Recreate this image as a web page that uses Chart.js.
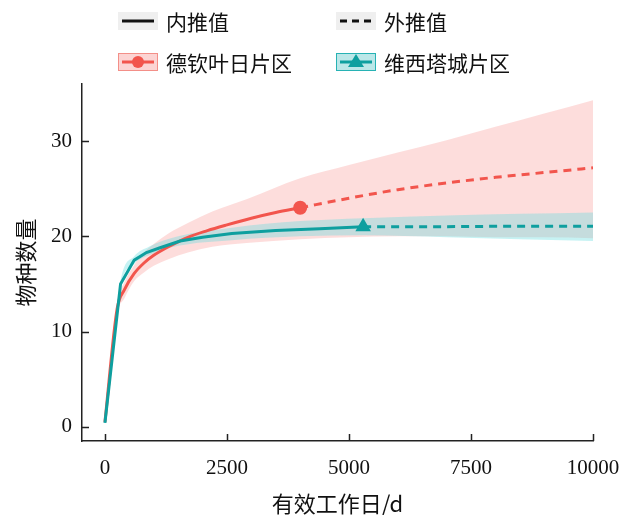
<!DOCTYPE html>
<html>
<head>
<meta charset="utf-8">
<script src="https://cdn.jsdelivr.net/npm/chart.js@4.4.1/dist/chart.umd.min.js"></script>
<style>
html, body { margin: 0; padding: 0; background: #fff; }
#wrap { width: 628px; height: 515px; position: relative; }
</style>
</head>
<body>
<div id="wrap"><canvas id="myChart"></canvas></div>
<script>
const xTicks = [0, 2500, 5000, 7500, 10000];
const yTicks = [0, 10, 20, 30];

// 德钦叶日片区
const deqinInterpDays = [0, 250, 400, 600, 800, 1000, 1300, 1700, 2100, 2500, 3000, 3500, 4000];
const deqinInterp = [0.5, 12.4, 14.4, 16.1, 17.2, 18.0, 18.9, 19.9, 20.6, 21.2, 21.9, 22.5, 23.0];
const deqinExtrapDays = [4000, 5000, 6000, 7000, 8000, 9000, 10000];
const deqinExtrap = [23.0, 24.0, 24.9, 25.6, 26.2, 26.7, 27.2];
const deqinBandDays = [0, 250, 400, 600, 800, 1000, 1300, 1700, 2200, 2900, 4000, 5000, 6000, 7000, 8000, 9000, 10000];
const deqinLower = [0.5, 11.8, 13.5, 15.3, 16.2, 16.9, 17.6, 18.3, 18.9, 19.3, 19.7, 19.9, 20.0, 20.0, 19.9, 19.9, 19.8];
const deqinUpper = [0.5, 13.0, 15.2, 17.0, 18.3, 19.2, 20.3, 21.4, 22.6, 23.9, 26.1, 27.5, 28.8, 30.1, 31.5, 32.9, 34.3];

// 维西塔城片区
const weixiInterpDays = [0, 320, 600, 850, 1130, 1540, 2000, 2600, 3500, 4400, 5290];
const weixiInterp = [0.4, 15.0, 17.5, 18.3, 18.8, 19.5, 19.9, 20.3, 20.6, 20.8, 21.0];
const weixiExtrapDays = [5290, 6500, 8000, 10000];
const weixiExtrap = [21.0, 21.0, 21.05, 21.05];
const weixiBandDays = [0, 320, 600, 900, 1500, 2600, 4000, 5290, 7000, 10000];
const weixiLower = [0.4, 14.7, 17.1, 18.0, 19.0, 19.6, 20.0, 20.1, 19.9, 19.5];
const weixiUpper = [0.4, 15.3, 17.9, 18.9, 20.0, 20.9, 21.6, 21.9, 22.2, 22.5];

const RED = '#f2554d';
const TEAL = '#0e9f9f';
const RED_FILL = 'rgba(245, 85, 80, 0.2)';
const TEAL_FILL = 'rgba(101, 220, 223, 0.37)';
const CJK = '"Noto Sans CJK SC", sans-serif';
const NUM = '"Liberation Serif", serif';

const pts = (xs, ys) => xs.map((x, i) => ({ x: x, y: ys[i] }));

const bandLine = { borderWidth: 0, pointRadius: 0, cubicInterpolationMode: 'monotone' };

// inward tick marks on both axes
const innerTicks = {
  id: 'innerTicks',
  afterDraw(chart) {
    const { ctx, chartArea, scales } = chart;
    ctx.save();
    ctx.strokeStyle = '#222';
    ctx.lineWidth = 1.5;
    ctx.beginPath();
    xTicks.forEach(v => {
      const px = Math.round(scales.x.getPixelForValue(v)) + 0.5;
      ctx.moveTo(px, chartArea.bottom);
      ctx.lineTo(px, chartArea.bottom - 7);
    });
    yTicks.forEach(v => {
      const py = Math.round(scales.y.getPixelForValue(v)) + 0.5;
      ctx.moveTo(chartArea.left, py);
      ctx.lineTo(chartArea.left + 7, py);
    });
    ctx.stroke();
    ctx.restore();
  }
};

// two-row legend: line style row and region row
const legendGrid = {
  id: 'legendGrid',
  afterDraw(chart) {
    const ctx = chart.ctx;
    ctx.save();
    ctx.font = '21px ' + CJK;
    ctx.textBaseline = 'middle';

    const box = (x, y, fill, stroke) => {
      ctx.fillStyle = fill;
      ctx.fillRect(x, y - 9, 40, 18);
      if (stroke) {
        ctx.strokeStyle = stroke;
        ctx.lineWidth = 1;
        ctx.strokeRect(x + 0.5, y - 8.5, 39, 17);
      }
    };
    const seg = (x, y, color, dash) => {
      ctx.strokeStyle = color;
      ctx.lineWidth = 3;
      ctx.setLineDash(dash);
      ctx.beginPath();
      ctx.moveTo(x + 4, y);
      ctx.lineTo(x + 36, y);
      ctx.stroke();
      ctx.setLineDash([]);
    };
    const label = (x, y, t) => {
      ctx.fillStyle = '#111';
      ctx.fillText(t, x, y);
    };

    box(118, 21, '#efefef');
    seg(118, 21, '#111', []);
    label(166, 22, '内推值');

    box(336, 21, '#efefef');
    seg(336, 21, '#111', [7, 5]);
    label(384, 22, '外推值');

    box(118, 62, 'rgba(245, 85, 80, 0.25)', '#f38f88');
    seg(118, 62, RED, []);
    ctx.fillStyle = RED;
    ctx.beginPath();
    ctx.arc(138, 62, 6, 0, Math.PI * 2);
    ctx.fill();
    label(166, 63, '德钦叶日片区');

    box(336, 62, 'rgba(60, 185, 190, 0.35)', '#27b2b4');
    seg(336, 62, TEAL, []);
    ctx.fillStyle = TEAL;
    ctx.beginPath();
    ctx.moveTo(356, 54);
    ctx.lineTo(364, 67);
    ctx.lineTo(348, 67);
    ctx.closePath();
    ctx.fill();
    label(384, 63, '维西塔城片区');

    ctx.restore();
  }
};

const ctx = document.getElementById('myChart').getContext('2d');

// lower `order` is drawn on top: markers > lines > teal band > pink band
new Chart(ctx, {
  type: 'line',
  data: {
    datasets: [
      { ...bandLine, order: 6, data: pts(deqinBandDays, deqinLower), fill: false },
      { ...bandLine, order: 5, data: pts(deqinBandDays, deqinUpper), fill: '-1', backgroundColor: RED_FILL },
      { ...bandLine, order: 4, data: pts(weixiBandDays, weixiLower), fill: false },
      { ...bandLine, order: 3, data: pts(weixiBandDays, weixiUpper), fill: '-1', backgroundColor: TEAL_FILL },
      {
        order: 2, data: pts(deqinInterpDays, deqinInterp), borderColor: RED, borderWidth: 3,
        pointRadius: 0, cubicInterpolationMode: 'monotone', fill: false
      },
      {
        order: 2, data: pts(deqinExtrapDays, deqinExtrap), borderColor: RED, borderWidth: 3,
        borderDash: [8, 6], pointRadius: 0, cubicInterpolationMode: 'monotone', fill: false
      },
      {
        order: 1, data: pts(weixiInterpDays, weixiInterp), borderColor: TEAL, borderWidth: 3,
        pointRadius: 0, tension: 0, fill: false
      },
      {
        order: 1, data: pts(weixiExtrapDays, weixiExtrap), borderColor: TEAL, borderWidth: 3,
        borderDash: [8, 6], pointRadius: 0, tension: 0, fill: false
      },
      {
        order: 0,
        data: [{ x: deqinInterpDays[deqinInterpDays.length - 1], y: deqinInterp[deqinInterp.length - 1] }],
        showLine: false, pointStyle: 'circle', pointRadius: 7,
        pointBackgroundColor: RED, pointBorderColor: RED, pointBorderWidth: 0
      },
      {
        order: 0,
        data: [{ x: weixiInterpDays[weixiInterpDays.length - 1], y: weixiInterp[weixiInterp.length - 1] }],
        showLine: false, pointStyle: 'triangle', pointRadius: 9,
        pointBackgroundColor: TEAL, pointBorderColor: TEAL, pointBorderWidth: 0
      }
    ]
  },
  options: {
    responsive: true,
    maintainAspectRatio: false,
    animation: false,
    layout: { padding: { top: 84, right: 35, bottom: 0, left: 0 } },
    plugins: {
      legend: { display: false },
      tooltip: { enabled: false }
    },
    scales: {
      x: {
        type: 'linear',
        min: -470,
        max: 10000,
        afterBuildTicks: s => { s.ticks = xTicks.map(v => ({ value: v })); },
        afterFit: s => { s.height = 74; },
        grid: { display: false },
        border: { display: true, color: '#222', width: 1.5 },
        ticks: {
          color: '#111', padding: 7, maxRotation: 0,
          font: { family: NUM, size: 21 },
          callback: v => String(v)
        },
        title: {
          display: true, text: '有效工作日/d', color: '#111',
          font: { family: CJK, size: 22 }, padding: { top: 0, bottom: -2 }
        }
      },
      y: {
        min: -1.5,
        max: 36,
        afterBuildTicks: s => { s.ticks = yTicks.map(v => ({ value: v })); },
        afterFit: s => { s.width = 82; },
        grid: { display: false },
        border: { display: true, color: '#222', width: 1.5 },
        ticks: {
          color: '#111', padding: 2,
          font: { family: NUM, size: 21 },
          callback: v => String(v)
        },
        title: {
          display: true, text: '物种数量', color: '#111',
          font: { family: CJK, size: 22 }, padding: { top: 12, bottom: 0 }
        }
      }
    }
  },
  plugins: [innerTicks, legendGrid]
});
</script>
</body>
</html>
